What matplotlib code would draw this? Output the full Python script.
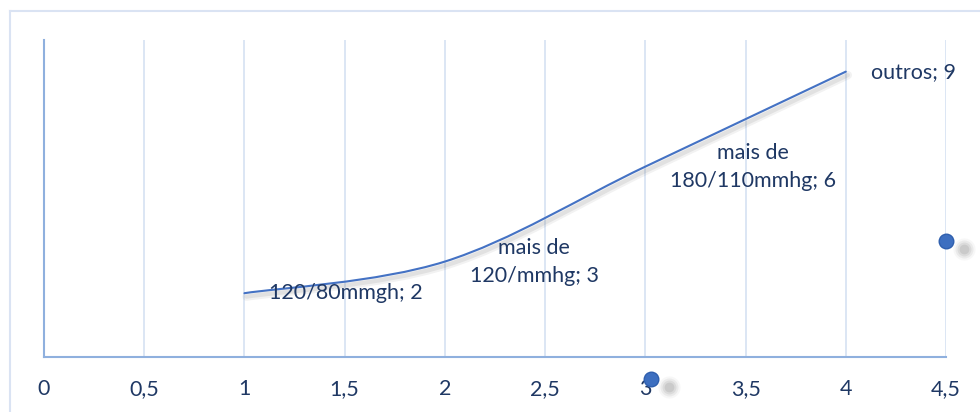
import matplotlib
matplotlib.use("Agg")
import matplotlib.pyplot as plt
import matplotlib.patheffects as pe
from matplotlib.path import Path
from matplotlib.patches import PathPatch
import matplotlib.transforms as mtransforms

plt.rcParams['font.family'] = ['Lato', 'DejaVu Sans']

# Series data
x_vals = [1, 2, 3, 4]
y_vals = [2, 3, 6, 9]
point_labels = ["120/80mmgh; 2", "mais de\n120/mmhg; 3", "mais de\n180/110mmhg; 6", "outros; 9"]

# Loose markers drawn outside the line
extra_x = [3.03, 4.5]
extra_y = [-0.7, 3.65]

x_ticks = [0, 0.5, 1, 1.5, 2, 2.5, 3, 3.5, 4, 4.5]
x_tick_labels = ["0", "0,5", "1", "1,5", "2", "2,5", "3", "3,5", "4", "4,5"]

LINE_BLUE = "#4472C4"
GRID_BLUE = "#D5E1F2"
AXIS_BLUE = "#8FB0DE"
TEXT_BLUE = "#1F3864"
FS = 15.5

fig = plt.figure(figsize=(9.8, 4.12), dpi=100)

# chart frame (top and left edges visible)
fig.add_artist(plt.Line2D([10 / 980, 1.0], [1 - 11 / 412, 1 - 11 / 412],
                          transform=fig.transFigure, color="#DAE3F3", lw=1.5))
fig.add_artist(plt.Line2D([10 / 980, 10 / 980], [0, 1 - 11 / 412],
                          transform=fig.transFigure, color="#DAE3F3", lw=1.5))

ax = fig.add_axes([44 / 980, (412 - 356.5) / 412, (946 - 44) / 980, (356.5 - 40) / 412])
ax.set_xlim(0, 4.5)
ax.set_ylim(0, 10)

for s in ["top", "right"]:
    ax.spines[s].set_visible(False)
ax.spines["left"].set_color(AXIS_BLUE)
ax.spines["bottom"].set_color(AXIS_BLUE)
ax.spines["left"].set_linewidth(1.5)
ax.spines["bottom"].set_linewidth(1.5)

ax.set_xticks(x_ticks)
ax.set_xticklabels(x_tick_labels)
ax.set_yticks([])
ax.tick_params(axis="x", length=0, pad=16.5, labelsize=FS, labelcolor=TEXT_BLUE)
ax.xaxis.grid(True, color=GRID_BLUE, lw=1.2)
ax.set_axisbelow(True)

# smooth line through the points (cubic Bezier, Catmull-Rom style control points)
pts = list(zip(x_vals, y_vals))
verts = [pts[0]]
codes = [Path.MOVETO]
n = len(pts)
for i in range(n - 1):
    p_prev = pts[i - 1] if i > 0 else pts[i]
    p0 = pts[i]
    p1 = pts[i + 1]
    p_next = pts[i + 2] if i + 2 < n else pts[i + 1]
    c1 = (p0[0] + (p1[0] - p_prev[0]) / 6, p0[1] + (p1[1] - p_prev[1]) / 6)
    c2 = (p1[0] - (p_next[0] - p0[0]) / 6, p1[1] - (p_next[1] - p0[1]) / 6)
    verts += [c1, c2, p1]
    codes += [Path.CURVE4] * 3
curve = PathPatch(Path(verts, codes), facecolor="none", edgecolor=LINE_BLUE, lw=1.5,
                  capstyle="round", zorder=3)
shadow_fx = [pe.SimpleLineShadow(offset=(1.5, -2.5), shadow_color="gray", alpha=0.10, linewidth=6),
             pe.SimpleLineShadow(offset=(1.5, -2.5), shadow_color="gray", alpha=0.15, linewidth=3),
             pe.Normal()]
curve.set_path_effects(shadow_fx)
ax.add_patch(curve)

# data labels to the right of each point
for x, y, lab in zip(x_vals, y_vals, point_labels):
    ax.annotate(lab, (x, y), xytext=(18, 0), textcoords="offset points",
                ha="left", va="center", multialignment="center",
                fontsize=FS, color=TEXT_BLUE, linespacing=1.5, zorder=4)

# loose markers with soft shadows
for x, y in zip(extra_x, extra_y):
    off = mtransforms.offset_copy(ax.transData, fig=fig, x=13, y=-6, units="points")
    for ms, a in [(16, 0.06), (13, 0.10), (10, 0.14), (7, 0.18)]:
        ax.plot([x], [y], "o", ms=ms, color="gray", alpha=a, mec="none",
                transform=off, clip_on=False, zorder=4)
    ax.plot([x], [y], "o", ms=10.5, color="#3D6FC0", mec="#2F5FAE", mew=1,
            clip_on=False, zorder=5)

fig.savefig("out.png", dpi=100)
